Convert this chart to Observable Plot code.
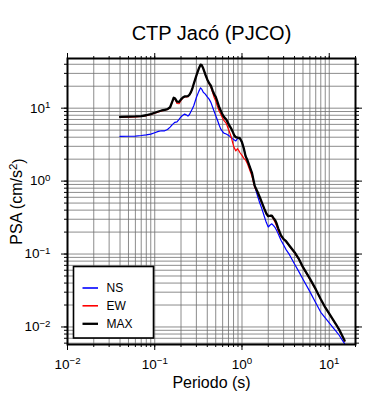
<!DOCTYPE html>
<html><head><meta charset="utf-8">
<script src="https://cdn.jsdelivr.net/npm/d3@7"></script>
<script src="https://cdn.jsdelivr.net/npm/@observablehq/plot@0.6"></script>
<style>body{margin:0;background:#fff} svg{display:block}</style>
</head><body><div id="chart"></div>
<script>
const periods = [0.04,0.05,0.06,0.07,0.08,0.09,0.1,0.11,0.12,0.13,0.14,0.15,0.16,0.165,0.17,0.18,0.19,0.2,0.21,0.22,0.23,0.24,0.25,0.26,0.27,0.28,0.3,0.32,0.335,0.345,0.36,0.38,0.4,0.42,0.44,0.46,0.48,0.5,0.52,0.55,0.57,0.6,0.62,0.66,0.71,0.75,0.78,0.81,0.85,0.89,0.92,0.95,1.0,1.05,1.1,1.15,1.2,1.3,1.4,1.5,1.6,1.7,1.8,1.9,2.0,2.1,2.2,2.3,2.4,2.5,2.6,2.8,3.0,3.2,3.5,4.0,4.5,5.0,6.0,7.0,8.0,9.0,10,11,12,13,14,15];
const ns = [4.1,4.12,4.15,4.22,4.3,4.4,4.6,4.8,4.9,4.9,5.1,5.5,6.0,6.2,6.4,6.5,7.0,7.6,8.0,8.3,8.1,7.8,8.2,9.0,9.8,10.8,14.0,17.0,19.0,18.3,16.5,15.6,14.3,13.3,12.0,10.4,9.0,7.9,7.0,5.8,5.2,4.75,4.55,4.43,4.2,3.95,3.8,3.7,3.55,3.86,3.85,3.82,3.4,2.8,2.2,1.95,1.7,1.3,0.85,0.64,0.5,0.41,0.33,0.27,0.235,0.25,0.26,0.245,0.23,0.21,0.19,0.155,0.133,0.115,0.098,0.073,0.057,0.045,0.0305,0.0215,0.0159,0.0133,0.0114,0.0099,0.0087,0.0077,0.0067,0.0059];
const ew = [7.5,7.55,7.6,7.7,7.9,8.2,8.55,8.9,9.2,9.4,9.6,10.2,12.5,13.6,13.5,11.6,11.5,12.8,13.8,14.3,14.3,14.4,15.2,16.5,18.5,21.5,28,35,39.5,39,35,29,24.5,21.5,19.5,16.5,14.0,12.5,10.8,9.0,8.3,7.3,6.8,6.2,4.9,4.1,3.4,2.9,2.6,2.78,2.62,2.45,2.25,2.05,1.95,1.75,1.52,1.17,0.82,0.71,0.59,0.49,0.42,0.36,0.33,0.335,0.33,0.30,0.27,0.24,0.21,0.175,0.158,0.148,0.128,0.104,0.084,0.065,0.045,0.0325,0.0238,0.0184,0.0151,0.0126,0.0107,0.0091,0.0076,0.0064];
const mx = [7.6,7.65,7.7,7.8,8.0,8.3,8.65,9.0,9.3,9.5,9.7,10.3,12.6,13.9,13.7,12.3,12.2,13.2,14.0,14.5,14.5,14.6,15.3,16.6,18.6,21.6,28,35,39.5,39,35,29,24.8,22,20.3,17.5,15.5,14.3,12.5,10.2,9.3,8.1,7.6,7.0,5.9,5.3,4.8,4.3,4.0,3.95,3.92,3.85,3.4,2.8,2.2,1.95,1.7,1.3,0.86,0.72,0.6,0.5,0.42,0.36,0.33,0.335,0.335,0.31,0.29,0.26,0.225,0.18,0.16,0.15,0.13,0.106,0.085,0.066,0.046,0.033,0.024,0.0185,0.0152,0.0127,0.0108,0.0092,0.0077,0.0065];
const seriesNames = ["NS", "EW", "MAX"];
const seriesColors = ["#0000ff", "#ff0000", "#000000"];
const seriesWidths = [1.2, 1.2, 2.3];
const xMajor = [0.01, 0.1, 1, 10];
const yMajor = [0.01, 0.1, 1, 10];
const xDomain = [0.01, 20];
const yDomain = [0.00575, 48];
const titleText = "CTP Jacó (PJCO)";
const xLabel = "Periodo (s)";
const yLabel = "PSA (cm/s|2|)";

const W = 390, H = 400, ML = 67, MR = 35, MT = 58, MB = 56;
const font = "'Liberation Sans', Arial, Helvetica, sans-serif";
const seriesVals = [ns, ew, mx];
const xMinor = d3.scaleLog().domain(xDomain).ticks();
const yMinor = d3.scaleLog().domain(yDomain).ticks();
const pow = d => "10|" + String(Math.round(Math.log10(d))).replace("-", "\u2212");
const gridColor = "#6e6e6e";

const lineMarks = seriesVals.map((vals, k) =>
  Plot.line(periods.map((p, i) => ({period: p, psa: vals[i]})),
    {x: "period", y: "psa", stroke: seriesColors[k], strokeWidth: seriesWidths[k], strokeLinejoin: "round"}));

const chart = Plot.plot({
  width: W, height: H,
  marginLeft: ML, marginRight: MR, marginTop: MT, marginBottom: MB,
  style: {fontFamily: font, fontSize: "13px", background: "white", color: "black"},
  x: {type: "log", domain: xDomain, label: null},
  y: {type: "log", domain: yDomain, label: null},
  marks: [
    Plot.gridX(xMinor, {stroke: gridColor, strokeOpacity: 1, strokeWidth: 0.8}),
    Plot.gridY(yMinor, {stroke: gridColor, strokeOpacity: 1, strokeWidth: 0.8}),
    Plot.axisX(xMinor, {anchor: "bottom", tickSize: 3, fill: "none", label: null}),
    Plot.axisX(xMinor, {anchor: "top", tickSize: 3, fill: "none", label: null}),
    Plot.axisY(yMinor, {anchor: "left", tickSize: 3, fill: "none", label: null}),
    Plot.axisY(yMinor, {anchor: "right", tickSize: 3, fill: "none", label: null}),
    Plot.axisX(xMajor, {anchor: "bottom", tickSize: 6, tickPadding: 8.5, tickFormat: pow, fontSize: 13.5, label: null}),
    Plot.axisX(xMajor, {anchor: "top", tickSize: 6, fill: "none", label: null}),
    Plot.axisY(yMajor, {anchor: "left", tickSize: 6, tickPadding: 11, tickFormat: pow, fontSize: 13.5, label: null}),
    Plot.axisY(yMajor, {anchor: "right", tickSize: 6, fill: "none", label: null}),
    ...lineMarks,
    Plot.frame({stroke: "black", strokeWidth: 2}),
    Plot.text([titleText], {text: d => d, frameAnchor: "top", textAnchor: "middle", lineAnchor: "middle", dy: -25, fontSize: 20}),
    Plot.text([xLabel], {text: d => d, frameAnchor: "bottom", textAnchor: "middle", lineAnchor: "middle", dy: 38.5, fontSize: 16}),
    Plot.text([yLabel], {text: d => d, frameAnchor: "left", textAnchor: "middle", lineAnchor: "middle", rotate: -90, dx: -50.5, fontSize: 16})
  ]
});

const svg = d3.select(chart);
svg.selectAll("text").each(function () {
  const t = d3.select(this);
  if (!t.select("tspan").empty()) return;
  const s = t.text();
  if (!s.includes("|")) return;
  const parts = s.split("|");
  t.text(null);
  t.append("tspan").text(parts[0]);
  t.append("tspan").attr("dy", "-0.48em").attr("font-size", "0.72em").text(parts[1]);
  if (parts.length > 2 && parts[2]) t.append("tspan").attr("dy", "0.48em").text(parts[2]);
});

// legend
const lg = svg.append("g").attr("font-family", font).attr("font-size", 12).attr("text-anchor", "start");
const bx = ML + 6.5, bw = 80, bh = 71.5, by = H - MB - 6 - bh;
lg.append("rect").attr("x", bx).attr("y", by).attr("width", bw).attr("height", bh)
  .attr("fill", "white").attr("stroke", "black").attr("stroke-width", 1.6);
const rowsY = [by + 21.5, by + 39.3, by + 57.3];
seriesNames.forEach((name, k) => {
  lg.append("line").attr("x1", bx + 9).attr("x2", bx + 24.5).attr("y1", rowsY[k]).attr("y2", rowsY[k])
    .attr("stroke", seriesColors[k]).attr("stroke-width", k === 2 ? 2.3 : 1.6);
  lg.append("text").attr("x", bx + 33).attr("y", rowsY[k]).attr("dy", "0.36em").attr("fill", "black").text(name);
});

document.getElementById("chart").appendChild(chart);
</script>
</body></html>
